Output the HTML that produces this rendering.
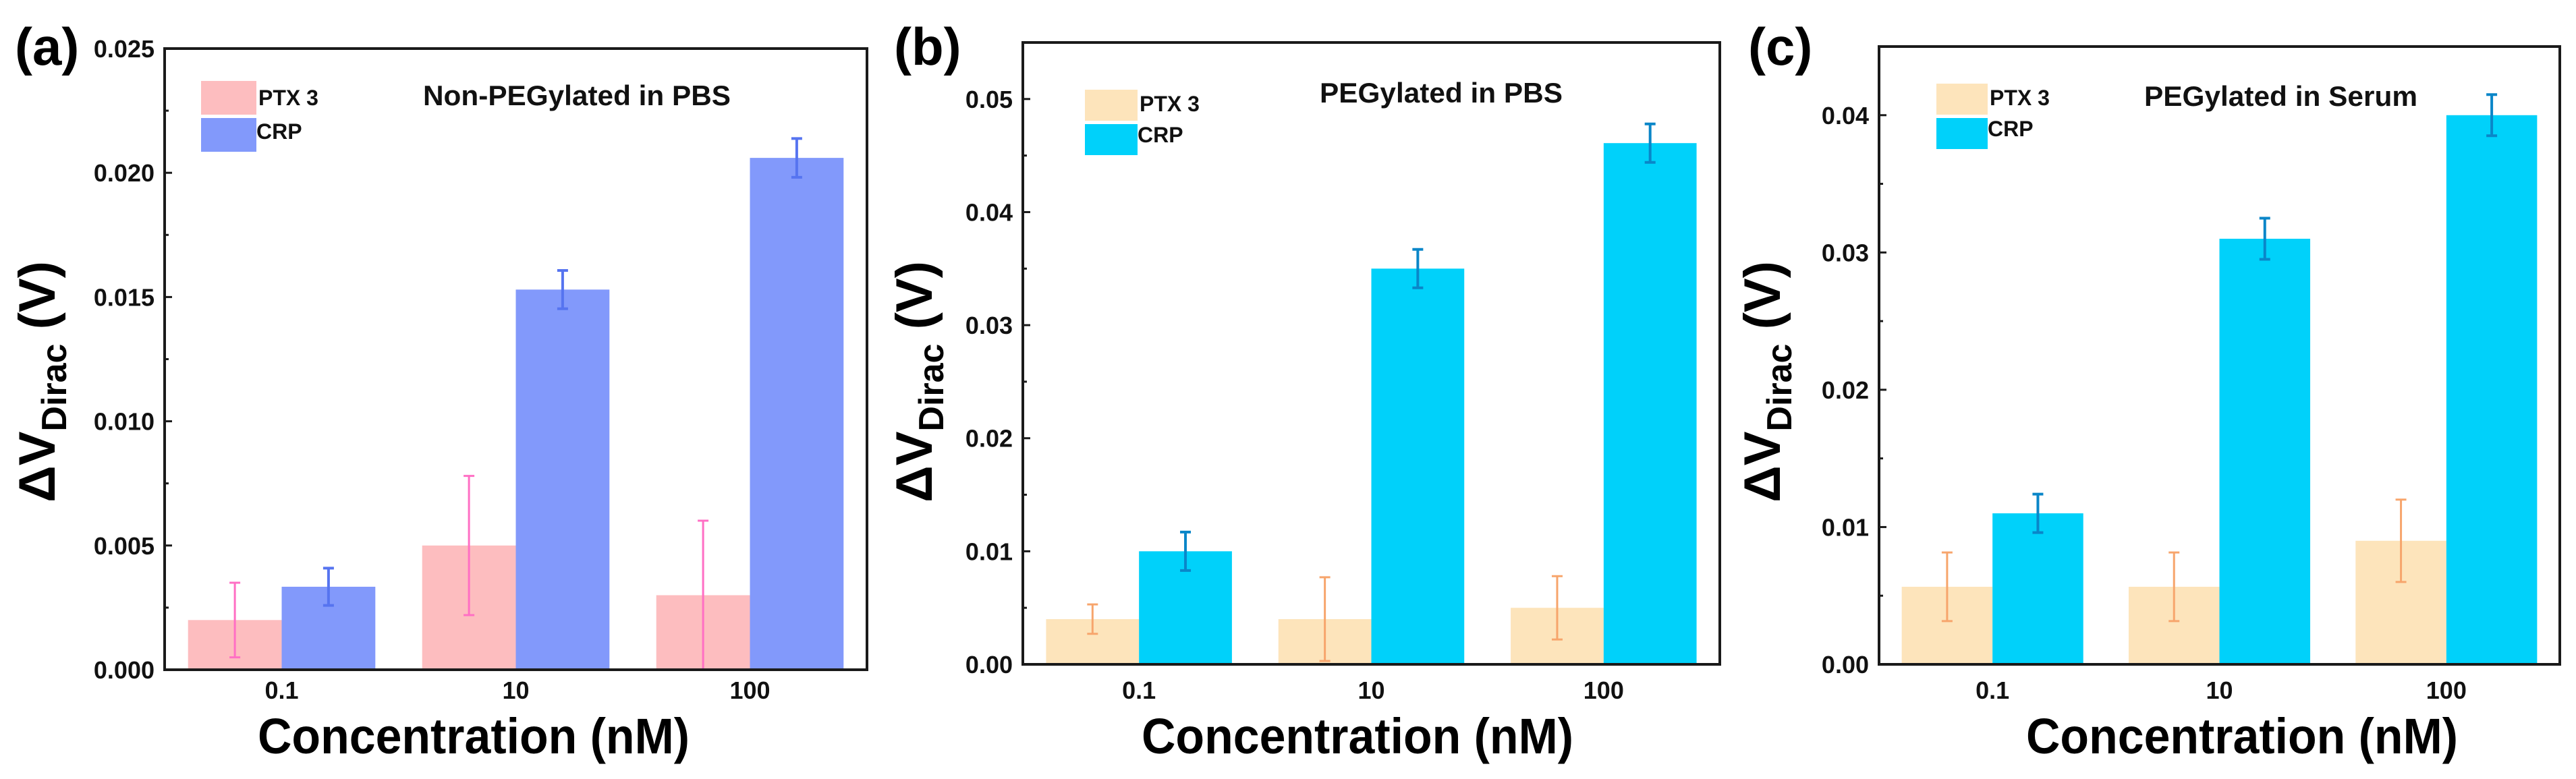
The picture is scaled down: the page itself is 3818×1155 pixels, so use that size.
<!DOCTYPE html>
<html><head><meta charset="utf-8"><style>
html,body{margin:0;padding:0;background:#fff;}
svg{display:block;font-family:"Liberation Sans",Arial,sans-serif;font-weight:bold;}
</style></head><body>
<svg id="fig" width="3818" height="1155" viewBox="0 0 3818 1155" xmlns="http://www.w3.org/2000/svg"></svg>
<script>
const categories = ["0.1", "10", "100"];
const ptxA = [0.002, 0.005, 0.003];
const ptxErrA = [0.0015, 0.0028, 0.003];
const crpA = [0.00334, 0.0153, 0.0206];
const crpErrA = [0.00075, 0.00077, 0.00078];
const ticksA = [0, 0.005, 0.01, 0.015, 0.02, 0.025];
const ptxB = [0.004, 0.004, 0.005];
const ptxErrB = [0.0013, 0.0037, 0.0028];
const crpB = [0.010, 0.035, 0.0461];
const crpErrB = [0.0017, 0.0017, 0.0017];
const ticksB = [0, 0.01, 0.02, 0.03, 0.04, 0.05];
const ptxC = [0.00565, 0.00565, 0.009];
const ptxErrC = [0.0025, 0.0025, 0.003];
const crpC = [0.011, 0.031, 0.040];
const crpErrC = [0.0014, 0.0015, 0.0015];
const ticksC = [0, 0.01, 0.02, 0.03, 0.04];

const NS = "http://www.w3.org/2000/svg";
const svg = document.getElementById("fig");
function mk(tag, attrs, parent, text) {
  const e = document.createElementNS(NS, tag);
  for (const k in attrs) e.setAttribute(k, attrs[k]);
  if (text !== undefined) e.textContent = text;
  (parent || svg).appendChild(e);
  return e;
}

function panel(cfg) {
  const g = mk("g", {});
  
  
  const L = cfg.left, R = cfg.right, T = cfg.top, B = cfg.bottom;
  const y = v => B - (v / cfg.max) * (B - T);
  const band = (R - L) / categories.length;
  const cx = i => L + band * (i + 0.5);
  const bw = band * 0.4;

  const pl = mk("text", {x: cfg.labelX, y: 96, "font-size": 78}, g, "(" + cfg.id + ")");
  
  

  const series = [
    {vals: cfg.ptx, err: cfg.ptxErr, fill: cfg.ptxFill, ec: cfg.ptxErrC, off: -1, name: "ptx3"},
    {vals: cfg.crp, err: cfg.crpErr, fill: cfg.crpFill, ec: cfg.crpErrC, off: 0, name: "crp"}
  ];
  series.forEach(s => {
    s.vals.forEach((v, i) => {
      const x0 = cx(i) + s.off * bw;
      const r = mk("rect", {x: x0, y: y(v), width: bw, height: B - y(v), fill: s.fill}, g);
      
      
    });
  });
  series.forEach(s => {
    s.vals.forEach((v, i) => {
      const xm = cx(i) + s.off * bw + bw / 2;
      const e = s.err[i];
      const eg = mk("g", {stroke: s.ec, "stroke-width": s.name === "crp" ? 4 : 3}, g);
      
      
      mk("line", {x1: xm, x2: xm, y1: y(v + e), y2: y(Math.max(0, v - e))}, eg);
      mk("line", {x1: xm - 8, x2: xm + 8, y1: y(v + e), y2: y(v + e)}, eg);
      mk("line", {x1: xm - 8, x2: xm + 8, y1: y(Math.max(0, v - e)), y2: y(Math.max(0, v - e))}, eg);
    });
  });

  const box = mk("rect", {x: L, y: T, width: R - L, height: B - T, fill: "none", stroke: "#1a1a1a", "stroke-width": 4}, g);
  
  

  const step = cfg.ticks[1] - cfg.ticks[0];
  cfg.ticks.forEach((t, i) => {
    mk("line", {x1: L, x2: L + 11, y1: y(t), y2: y(t), stroke: "#1a1a1a", "stroke-width": 3}, g);
    if (t + step / 2 < cfg.max) mk("line", {x1: L, x2: L + 6, y1: y(t + step / 2), y2: y(t + step / 2), stroke: "#1a1a1a", "stroke-width": 3}, g);
    const tl = mk("text", {x: L - 15, y: y(t) + 13, "font-size": 36, "text-anchor": "end", fill: "#111"}, g, t.toFixed(cfg.dec));
    
    
  });
  categories.forEach((c, i) => {
    const xl = mk("text", {x: cx(i), y: 1036, "font-size": 36, "text-anchor": "middle", fill: "#111"}, g, c);
    
    
  });

  const xt = mk("text", {x: cfg.xTitleX, y: 1117, "font-size": 74, "text-anchor": "middle", textLength: 640, lengthAdjust: "spacingAndGlyphs", fill: "#000"}, g, "Concentration (nM)");
  
  

  const yt = mk("text", {transform: "translate(" + cfg.yTitleX + ",566) rotate(-90)", "font-size": 76, "text-anchor": "middle", fill: "#000"}, g);
  
  
  mk("tspan", {}, yt, "ΔV");
  mk("tspan", {"font-size": 52, dy: 17}, yt, "Dirac");
  mk("tspan", {dy: -17}, yt, " (V)");

  const lg = mk("g", {}, g);
  
  
  const l1 = mk("rect", {x: cfg.lgX, y: cfg.lgY, width: cfg.lgW, height: cfg.lgH, fill: cfg.ptxFill}, lg);
  
  
  const l2 = mk("rect", {x: cfg.lgX, y: cfg.lgY + cfg.lgH + 5, width: cfg.lgW, height: cfg.lgH, fill: cfg.crpFill}, lg);
  
  
  const t1 = mk("text", {x: cfg.lgX + cfg.lgW + 3, y: cfg.lgY + cfg.lgH - 14, "font-size": 32, fill: "#111"}, lg, "PTX 3");
  
  
  const t2 = mk("text", {x: cfg.lgX + cfg.lgW, y: cfg.lgY + 2 * cfg.lgH - 14, "font-size": 32, fill: "#111"}, lg, "CRP");
  
  

  const an = mk("text", {x: cfg.annX, y: cfg.annY, "font-size": 42, textLength: cfg.annW, lengthAdjust: "spacingAndGlyphs", fill: "#111"}, g, cfg.ann);
  
  
}

panel({id: "a", left: 244, right: 1285, top: 72, bottom: 993, max: 0.025, ticks: ticksA, dec: 3,
  ptx: ptxA, ptxErr: ptxErrA, crp: crpA, crpErr: crpErrA,
  ptxFill: "#fdbdbf", crpFill: "#8299fb", ptxErrC: "#ff6fc4", crpErrC: "#5674f0",
  labelX: 22, xTitleX: 702, yTitleX: 81, lgX: 298, lgY: 120, lgW: 82, lgH: 50,
  ann: "Non-PEGylated in PBS", annX: 627, annY: 156, annW: 456});
panel({id: "b", left: 1516, right: 2549, top: 63, bottom: 985, max: 0.055, ticks: ticksB, dec: 2,
  ptx: ptxB, ptxErr: ptxErrB, crp: crpB, crpErr: crpErrB,
  ptxFill: "#fde4bb", crpFill: "#00d1fa", ptxErrC: "#f7a56c", crpErrC: "#0a86c8",
  labelX: 1325, xTitleX: 2012, yTitleX: 1381, lgX: 1608, lgY: 133, lgW: 78, lgH: 46,
  ann: "PEGylated in PBS", annX: 1956, annY: 152, annW: 360});
panel({id: "c", left: 2785, right: 3794, top: 69, bottom: 985, max: 0.045, ticks: ticksC, dec: 2,
  ptx: ptxC, ptxErr: ptxErrC, crp: crpC, crpErr: crpErrC,
  ptxFill: "#fde4bb", crpFill: "#00d1fa", ptxErrC: "#f7a56c", crpErrC: "#0a86c8",
  labelX: 2591, xTitleX: 3323, yTitleX: 2638, lgX: 2870, lgY: 124, lgW: 76, lgH: 46,
  ann: "PEGylated in Serum", annX: 3178, annY: 157, annW: 405});
</script>
</body></html>
